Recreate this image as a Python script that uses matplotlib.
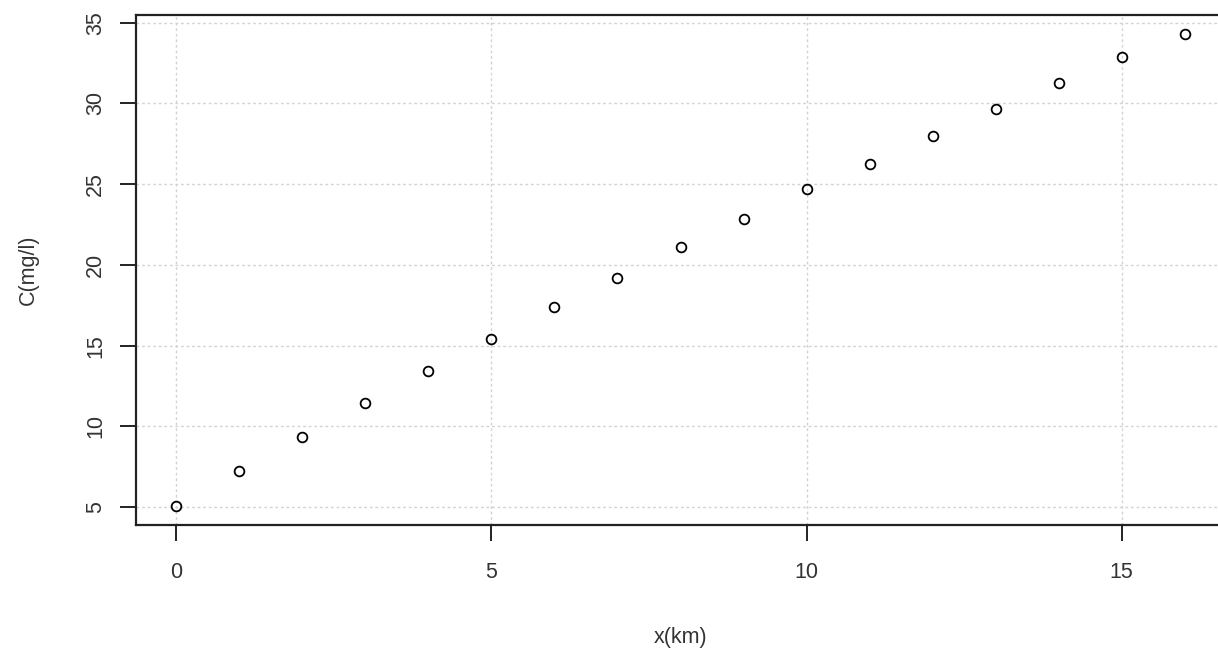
import matplotlib
matplotlib.use("Agg")
import matplotlib.pyplot as plt
import numpy as np

plt.rcParams['font.family'] = ['Liberation Sans', 'DejaVu Sans']

# --- DATA ---
x_km = [0, 1, 2, 3, 4, 5, 6, 7, 8, 9, 10, 11, 12, 13, 14, 15, 16]
conc = [5.06, 7.23, 9.33, 11.43, 13.41, 15.39, 17.37, 19.22, 21.08,
        22.87, 24.73, 26.27, 28.0, 29.67, 31.28, 32.89, 34.31]
x_ticks = [0, 5, 10, 15]
y_ticks = [5, 10, 15, 20, 25, 30, 35]

fig = plt.figure(figsize=(12.18, 6.54), dpi=100)
# axes runs a bit past the right edge, like the cropped original
ax = fig.add_axes([136 / 1218, 129 / 654, 1089 / 1218, 510 / 654])

# R-style 4% padding on the ranges
xr = max(x_km) - min(x_km)
yr = max(conc) - min(conc)
ax.set_xlim(min(x_km) - 0.04 * xr, max(x_km) + 0.04 * xr)
ax.set_ylim(min(conc) - 0.04 * yr, max(conc) + 0.04 * yr)

ax.set_xticks(x_ticks)
ax.set_yticks(y_ticks)
ax.grid(True, color='#d3d3d3', linestyle=(0, (2, 2)), linewidth=1.0)
ax.set_axisbelow(True)

ax.plot(x_km, conc, linestyle='none', marker='o', markersize=7,
        markerfacecolor='none', markeredgecolor='black', markeredgewidth=1.3)

for s in ax.spines.values():
    s.set_linewidth(1.6)
    s.set_color('#222222')

ax.tick_params(axis='both', length=11.5, width=1.4, color='#222222',
               labelsize=15.5, labelcolor='#333333')
ax.tick_params(axis='x', pad=15)
ax.tick_params(axis='y', pad=10)
plt.setp(ax.get_yticklabels(), rotation=90, va='center')

ax.set_xlabel('x(km)', fontsize=15.5, color='#333333', labelpad=32)
ax.set_ylabel('C(mg/l)', fontsize=15.5, color='#333333', labelpad=33)

fig.savefig('out.png', dpi=100)
